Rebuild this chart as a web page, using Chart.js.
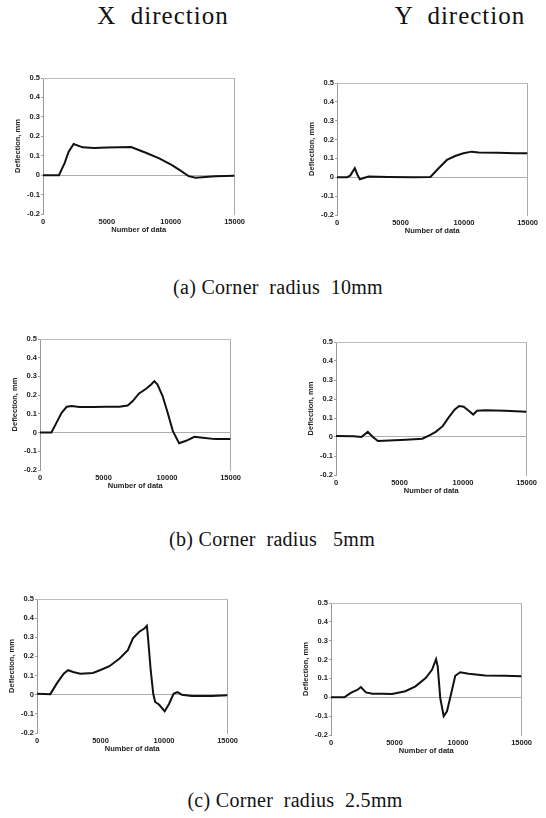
<!DOCTYPE html>
<html lang="en">
<head>
<meta charset="UTF-8">
<title>Deflection - corner radius</title>
<style>
    body { margin: 0; background: #fff; }
    #page { position: relative; width: 546px; height: 818px; overflow: hidden; background: #fff; }
    .head, .cap {
        position: absolute;
        font-family: "Liberation Serif", "DejaVu Serif", serif;
        color: #111;
        white-space: pre;
        line-height: 1;
        transform: translateX(-50%);
    }
    .head { font-size: 25px; letter-spacing: 1px; top: 3px; }
    .cap { font-size: 20px; letter-spacing: 0.3px; }
    canvas { position: absolute; }
</style>
<script src="https://cdn.jsdelivr.net/npm/chart.js"></script>
</head>
<body>
<div id="page">
    <div class="head" style="left:163px">X  direction</div>
    <div class="head" style="left:460px">Y  direction</div>

    <canvas id="ax"></canvas>
    <canvas id="ay"></canvas>
    <div class="cap" style="left:278px; top:277px">(a) Corner  radius  10mm</div>

    <canvas id="bx"></canvas>
    <canvas id="by"></canvas>
    <div class="cap" style="left:272px; top:529px">(b) Corner  radius   5mm</div>

    <canvas id="cx"></canvas>
    <canvas id="cy"></canvas>
    <div class="cap" style="left:295px; top:790px">(c) Corner  radius  2.5mm</div>
</div>

<script>
    // tick labels
    const xTicks = [0, 5000, 10000, 15000];
    const yTicks = [-0.2, -0.1, 0, 0.1, 0.2, 0.3, 0.4, 0.5];

    // (a) corner radius 10mm
    const aX_n = [0, 1250, 1700, 2000, 2400, 3100, 4000, 5000, 6000, 6900, 8050, 9100, 10100, 10800, 11400, 11950, 12700, 13500, 15000];
    const aX_v = [0, 0, 0.063, 0.12, 0.16, 0.143, 0.14, 0.142, 0.143, 0.145, 0.115, 0.086, 0.052, 0.022, -0.005, -0.013, -0.009, -0.006, -0.003];
    const aY_n = [0, 800, 1050, 1400, 1600, 1800, 2100, 2500, 4000, 6000, 7350, 8000, 8650, 9300, 9950, 10600, 11150, 12700, 14000, 15000];
    const aY_v = [0, 0, 0.01, 0.048, 0.015, -0.011, -0.004, 0.004, 0.002, 0, 0.002, 0.048, 0.092, 0.113, 0.127, 0.136, 0.132, 0.13, 0.128, 0.127];

    // (b) corner radius 5mm
    const bX_n = [0, 900, 1300, 1700, 2100, 2500, 3100, 4200, 5200, 6250, 6900, 7300, 7800, 8350, 8750, 9000, 9250, 9650, 10050, 10450, 10950, 11500, 12150, 12800, 13800, 15000];
    const bX_v = [0, 0, 0.053, 0.106, 0.138, 0.142, 0.137, 0.137, 0.138, 0.138, 0.145, 0.168, 0.209, 0.234, 0.257, 0.275, 0.257, 0.195, 0.106, 0.009, -0.057, -0.044, -0.023, -0.028, -0.035, -0.035];
    const bY_n = [0, 1400, 2000, 2500, 2900, 3300, 4200, 5500, 6800, 7350, 7850, 8400, 8900, 9350, 9700, 10050, 10450, 10800, 11100, 11750, 13300, 15000];
    const bY_v = [0.005, 0.004, 0, 0.027, 0, -0.021, -0.018, -0.014, -0.009, 0.009, 0.027, 0.057, 0.106, 0.145, 0.163, 0.159, 0.138, 0.118, 0.138, 0.141, 0.138, 0.133];

    // (c) corner radius 2.5mm
    const cX_n = [0, 1050, 1550, 2100, 2450, 2850, 3400, 4400, 4950, 5700, 6500, 7150, 7550, 8050, 8450, 8650, 8750, 8950, 9150, 9300, 9600, 10050, 10400, 10750, 11050, 11400, 12200, 13750, 15000];
    const cX_v = [0.005, 0.003, 0.058, 0.11, 0.128, 0.119, 0.11, 0.114, 0.128, 0.149, 0.189, 0.233, 0.294, 0.329, 0.346, 0.36, 0.288, 0.128, 0.005, -0.038, -0.051, -0.086, -0.047, 0.005, 0.014, 0, -0.007, -0.007, -0.003];
    const cY_n = [0, 1050, 1550, 2100, 2350, 2750, 3250, 4050, 4800, 5850, 6650, 7450, 7950, 8270, 8400, 8600, 8870, 9130, 9500, 9780, 10170, 10830, 12130, 13700, 15000];
    const cY_v = [0, 0, 0.023, 0.04, 0.054, 0.026, 0.019, 0.019, 0.018, 0.032, 0.058, 0.102, 0.146, 0.202, 0.163, -0.004, -0.1, -0.074, 0.032, 0.114, 0.133, 0.125, 0.116, 0.114, 0.111];

    const AXW = 45;   // room for y labels + title
    const XAH = 30;   // room for x labels + title
    const PT = 8, PR = 12;

    const tickFont = { family: 'Liberation Sans, Arial, sans-serif', size: 7.5, weight: 'bold' };

    // place a canvas so that its plot area is at left/top/right/bottom (page px)
    function placeChart(id, box, nArr, vArr) {
        const cv = document.getElementById(id);
        const w = box.r - box.l + AXW + PR;
        const h = box.b - box.t + PT + XAH;
        cv.width = w; cv.height = h;
        cv.style.left = (box.l - AXW) + 'px';
        cv.style.top = (box.t - PT) + 'px';

        const pts = nArr.map((n, i) => ({ x: n, y: vArr[i] }));

        new Chart(cv, {
            type: 'scatter',
            data: {
                datasets: [{
                    data: pts,
                    showLine: true,
                    borderColor: '#111',
                    borderWidth: 2,
                    pointRadius: 0,
                    tension: 0
                }]
            },
            options: {
                responsive: false,
                animation: false,
                layout: { padding: { top: PT, right: PR, left: 0, bottom: 0 } },
                plugins: { legend: { display: false }, tooltip: { enabled: false } },
                scales: {
                    x: {
                        type: 'linear', min: 0, max: 15000,
                        afterBuildTicks: s => { s.ticks = xTicks.map(v => ({ value: v })); },
                        afterFit: s => { s.height = XAH; },
                        ticks: { font: tickFont, color: '#222', padding: 3, maxRotation: 0, callback: v => String(v) },
                        grid: { display: false, drawTicks: false },
                        border: { display: false },
                        title: { display: true, text: 'Number of data', font: tickFont, color: '#222', padding: { top: 0, bottom: 9.5 } }
                    },
                    y: {
                        type: 'linear', min: -0.2, max: 0.5,
                        afterBuildTicks: s => { s.ticks = yTicks.map(v => ({ value: v })); },
                        afterFit: s => { s.width = AXW; },
                        ticks: { font: tickFont, color: '#222', padding: 1, callback: v => (v === 0 ? '0' : v.toFixed(1)) },
                        grid: {
                            drawTicks: true, tickLength: 2, tickColor: '#888',
                            color: c => (c.tick && c.tick.value === 0) ? '#999' : 'rgba(0,0,0,0)',
                            lineWidth: 0.8
                        },
                        // solid zero line, dashed axis line
                        border: { display: true, color: '#999', dash: c => (c.tick ? [] : [2, 2]), width: 1 },
                        title: { display: true, text: 'Deflection, mm', font: tickFont, color: '#222', padding: { top: 15.5, bottom: 0 } }
                    },
                    yR: {
                        type: 'linear', position: 'right', min: -0.2, max: 0.5,
                        ticks: { display: false },
                        grid: { drawOnChartArea: false, drawTicks: false },
                        border: { display: true, color: '#aaa', dash: [2, 3], width: 1 }
                    },
                    xT: {
                        type: 'linear', position: 'top', min: 0, max: 15000,
                        ticks: { display: false },
                        grid: { drawOnChartArea: false, drawTicks: false },
                        border: { display: true, color: '#bbb', dash: [1, 9], width: 1 }
                    }
                }
            }
        });
    }

    placeChart('ax', { l: 43, r: 236, t: 78, b: 214 }, aX_n, aX_v);
    placeChart('ay', { l: 337, r: 529, t: 83, b: 215 }, aY_n, aY_v);
    placeChart('bx', { l: 40, r: 232, t: 339, b: 470 }, bX_n, bX_v);
    placeChart('by', { l: 336, r: 528, t: 342, b: 475 }, bY_n, bY_v);
    placeChart('cx', { l: 37, r: 229, t: 599, b: 733 }, cX_n, cX_v);
    placeChart('cy', { l: 331, r: 523, t: 603, b: 735 }, cY_n, cY_v);
</script>
</body>
</html>
